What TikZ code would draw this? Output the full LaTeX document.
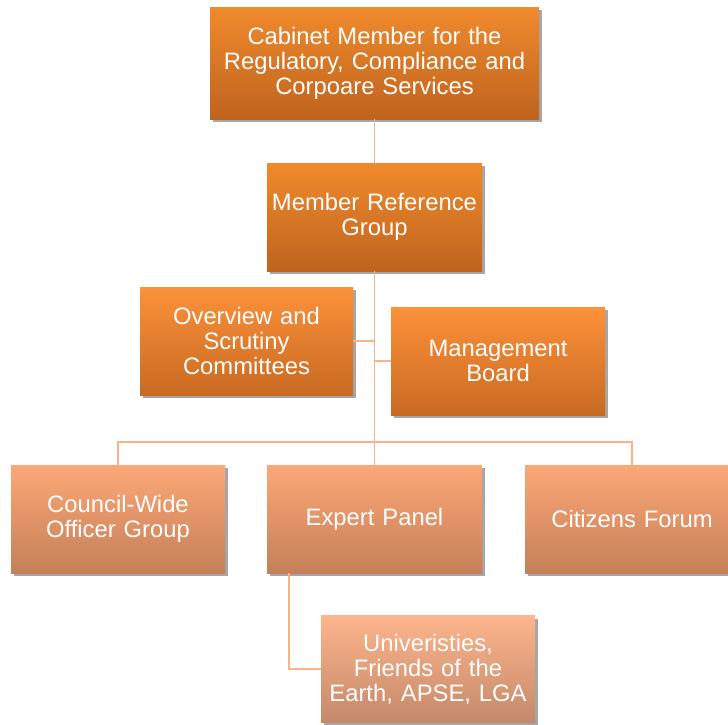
\documentclass[tikz,border=0pt]{standalone}
\usepackage{fontspec}
\setmainfont{Liberation Sans}
\usetikzlibrary{shadows}
\definecolor{lnc}{HTML}{F8B38A}
\definecolor{aT}{HTML}{F08A2C}\definecolor{aB}{HTML}{BF631E}
\definecolor{bT}{HTML}{FC913A}\definecolor{bB}{HTML}{C96A22}
\definecolor{cT}{HTML}{FCA877}\definecolor{cB}{HTML}{C57F58}
\definecolor{dT}{HTML}{FDB58C}\definecolor{dB}{HTML}{C4896A}
\tikzset{
  box/.style={rectangle, inner sep=0pt, align=center, text=white,
    font=\fontsize{23.8}{25}\selectfont,
    drop shadow={shadow xshift=2.5pt, shadow yshift=-3pt, fill=black, opacity=0.35}},
  lvA/.style={box, top color=aT, bottom color=aB},
  lvB/.style={box, top color=bT, bottom color=bB},
  lvC/.style={box, top color=cT, bottom color=cB},
  lvD/.style={box, top color=dT, bottom color=dB},
  conn/.style={draw=lnc, line width=1.8pt}
}
\begin{document}
\begin{tikzpicture}[x=1pt,y=-1pt]
\useasboundingbox (0,0) rectangle (728,724);
\node[lvA, minimum width=329pt, minimum height=112pt, text width=325pt] (A) at (374.5,63) {Cabinet Member for the\\Regulatory, Compliance and\\Corpoare Services};
\node[lvA, minimum width=215pt, minimum height=108pt, text width=213pt] (B) at (374.5,217) {Member Reference\\Group};
\node[lvB, minimum width=213pt, minimum height=108pt, text width=210pt] (C) at (246.5,341) {Overview and\\Scrutiny\\Committees};
\node[lvB, minimum width=214pt, minimum height=108pt, text width=210pt] (D) at (498,361) {Management\\Board};
\node[lvC, minimum width=214pt, minimum height=108pt, text width=210pt] (E) at (118,519) {Council-Wide\\Officer Group};
\node[lvC, minimum width=215pt, minimum height=108pt, text width=210pt] (F) at (374.5,519) {Expert Panel};
\node[lvC, minimum width=214pt, minimum height=108pt, text width=210pt] (G) at (632,519) {Citizens Forum};
\node[lvD, minimum width=214pt, minimum height=107pt, text width=210pt] (H) at (428,669) {Univeristies,\\Friends of the\\Earth, APSE, LGA};
\coordinate (bus) at (374.5,442);
\path[conn] (A.south) -- (B.north);
\path[conn] (B.south) -- (F.north);
\path[conn] (C.east) -- (C.east -| B.south);
\path[conn] (D.west) -- (D.west -| B.south);
\path[conn] (E.north) |- (bus) -| (G.north);
\path[conn] ([xshift=-85.5pt]F.south) |- (H.west);
\end{tikzpicture}
\end{document}
